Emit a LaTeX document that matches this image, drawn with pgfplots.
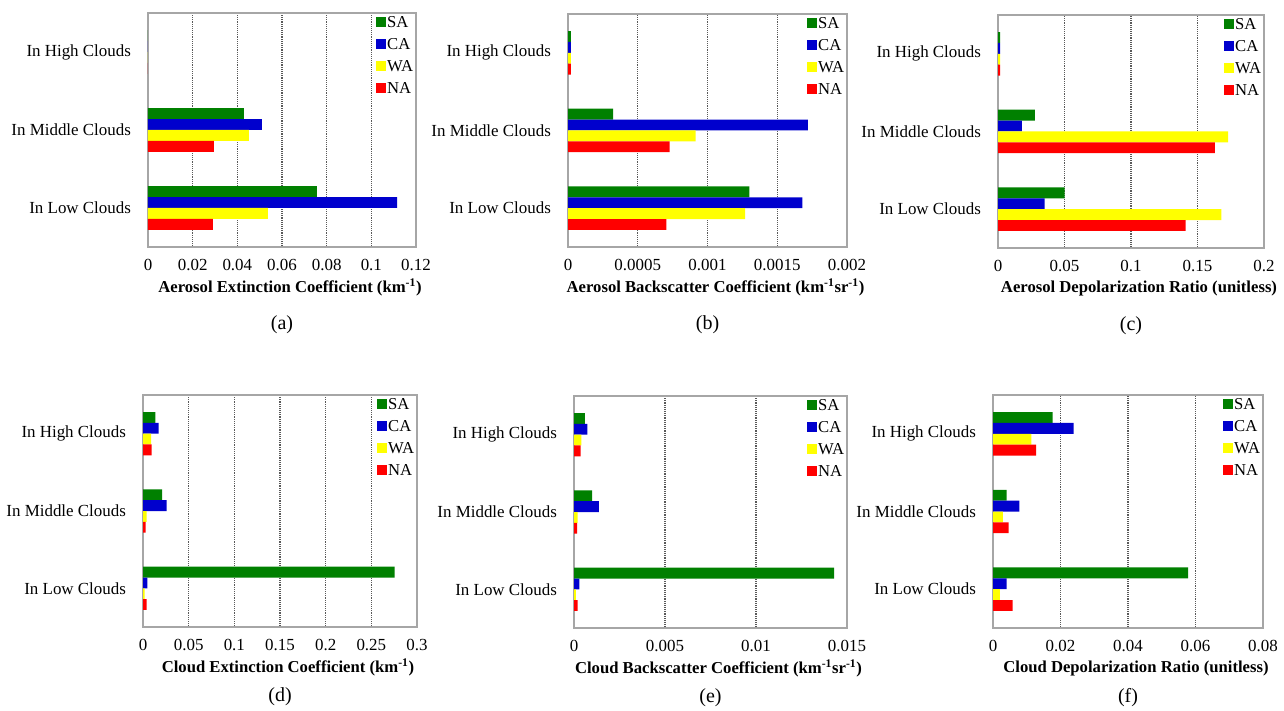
\documentclass[border=0pt]{standalone}
\usepackage{fontspec}
\setmainfont{Liberation Serif}
\usepackage{pgfplots}
\pgfplotsset{compat=1.18}
\definecolor{cSA}{RGB}{0,128,0}
\definecolor{cCA}{RGB}{0,0,205}
\definecolor{cWA}{RGB}{255,255,0}
\definecolor{cNA}{RGB}{255,0,0}
\pgfplotsset{
  panel/.style={
    scale only axis, xbar, anchor=south west,
    ymin=-0.5, ymax=2.5, ytick={0,1,2},
    yticklabels={In Low Clouds, In Middle Clouds, In High Clouds},
    xmin=0, bar width=0.14, scaled x ticks=false,
    xmajorgrids, major grid style={densely dotted, black!65, line width=0.8pt},
    axis line style={black!35, line width=1.1pt},
    tick style={draw=none},
    tick label style={font=\fontsize{12.7}{14}\selectfont},
    yticklabel style={xshift=-5pt},
    xticklabel style={yshift=-6pt},
    xlabel style={font=\bfseries\fontsize{12.5}{15}\selectfont, at={(axis description cs:0.5,0)}, anchor=center, yshift=-30.5pt, xshift=6pt},
    legend style={at={(1,1)}, anchor=north east, draw=none, fill=none,
      font=\fontsize{12.5}{14}\selectfont, row sep=3pt, inner sep=1pt,
      nodes={text height=9pt, text depth=2.5pt, inner sep=1pt}},
    legend cell align=left,
    legend image code/.code={\path[#1,draw=none] (0pt,-2.2pt) rectangle (7.4pt,5.2pt);},
    clip=false,
  },
  sa/.style={fill=cSA, draw=none, bar shift=0.21},
  ca/.style={fill=cCA, draw=none, bar shift=0.07},
  wa/.style={fill=cWA, draw=none, bar shift=-0.07},
  na/.style={fill=cNA, draw=none, bar shift=-0.21},
}
\begin{document}
\begin{tikzpicture}
\useasboundingbox (0,0) rectangle (963pt,532.5pt);
% (a)
\begin{axis}[panel, at={(111pt,347.25pt)}, width=201pt, height=175.5pt,
  xmax=0.12, xtick={0,0.02,0.04,0.06,0.08,0.1,0.12},
  xticklabels={0,0.02,0.04,0.06,0.08,0.1,0.12},
  xlabel={Aerosol Extinction Coefficient (km\textsuperscript{-1})}]
\addplot[sa] coordinates {(0.0756,0) (0.0429,1) (0,2)};
\addplot[ca] coordinates {(0.1115,0) (0.051,1) (0,2)};
\addplot[wa] coordinates {(0.0537,0) (0.0452,1) (0,2)};
\addplot[na] coordinates {(0.0291,0) (0.0295,1) (0,2)};
\legend{SA,CA,WA,NA}
\node[font=\fontsize{15}{17}\selectfont] at (axis description cs:0.5,0) [yshift=-58.5pt] {(a)};
\end{axis}
% (b)
\begin{axis}[panel, at={(426pt,347.25pt)}, width=209.25pt, height=174.75pt,
  xmax=0.002, xtick={0,0.0005,0.001,0.0015,0.002},
  xticklabels={0,0.0005,0.001,0.0015,0.002},
  xlabel={Aerosol Backscatter Coefficient (km\textsuperscript{-1}sr\textsuperscript{-1})}]
\addplot[sa] coordinates {(0.0013,0) (0.000323,1) (0.00002,2)};
\addplot[ca] coordinates {(0.00168,0) (0.00172,1) (0.00002,2)};
\addplot[wa] coordinates {(0.00127,0) (0.000915,1) (0.00002,2)};
\addplot[na] coordinates {(0.000705,0) (0.000729,1) (0.00002,2)};
\legend{SA,CA,WA,NA}
\node[font=\fontsize{15}{17}\selectfont] at (axis description cs:0.5,0) [yshift=-58.5pt] {(b)};
\end{axis}
% (c)
\begin{axis}[panel, at={(748.5pt,346.5pt)}, width=199.5pt, height=174.75pt,
  xmax=0.2, xtick={0,0.05,0.1,0.15,0.2},
  xticklabels={0,0.05,0.1,0.15,0.2},
  xlabel={Aerosol Depolarization Ratio (unitless)}]
\addplot[sa] coordinates {(0.050,0) (0.0278,1) (0.0015,2)};
\addplot[ca] coordinates {(0.035,0) (0.018,1) (0.0015,2)};
\addplot[wa] coordinates {(0.168,0) (0.173,1) (0.0015,2)};
\addplot[na] coordinates {(0.141,0) (0.163,1) (0.0015,2)};
\legend{SA,CA,WA,NA}
\node[font=\fontsize{15}{17}\selectfont] at (axis description cs:0.5,0) [yshift=-58.5pt] {(c)};
\end{axis}
% (d)
\begin{axis}[panel, at={(107.25pt,62.25pt)}, width=205.5pt, height=174pt,
  xmax=0.3, xtick={0,0.05,0.1,0.15,0.2,0.25,0.3},
  xticklabels={0,0.05,0.1,0.15,0.2,0.25,0.3},
  xlabel={Cloud Extinction Coefficient (km\textsuperscript{-1})}]
\addplot[sa] coordinates {(0.2755,0) (0.021,1) (0.0135,2)};
\addplot[ca] coordinates {(0.0047,0) (0.026,1) (0.017,2)};
\addplot[wa] coordinates {(0.0018,0) (0.004,1) (0.009,2)};
\addplot[na] coordinates {(0.004,0) (0.003,1) (0.0095,2)};
\legend{SA,CA,WA,NA}
\node[font=\fontsize{15}{17}\selectfont] at (axis description cs:0.5,0) [yshift=-52.5pt] {(d)};
\end{axis}
% (e)
\begin{axis}[panel, at={(430.5pt,61.5pt)}, width=204.75pt, height=174pt,
  xmax=0.015, xtick={0,0.005,0.01,0.015},
  xticklabels={0,0.005,0.01,0.015},
  xlabel={Cloud Backscatter Coefficient (km\textsuperscript{-1}sr\textsuperscript{-1})}]
\addplot[sa] coordinates {(0.01429,0) (0.001,1) (0.0006,2)};
\addplot[ca] coordinates {(0.0003,0) (0.00137,1) (0.00073,2)};
\addplot[wa] coordinates {(0.0001,0) (0.0002,1) (0.0004,2)};
\addplot[na] coordinates {(0.0002,0) (0.00017,1) (0.00037,2)};
\legend{SA,CA,WA,NA}
\node[font=\fontsize{15}{17}\selectfont] at (axis description cs:0.5,0) [yshift=-52.5pt] {(e)};
\end{axis}
% (f)
\begin{axis}[panel, at={(744.75pt,61.5pt)}, width=202.5pt, height=174.75pt,
  xmax=0.08, xtick={0,0.02,0.04,0.06,0.08},
  xticklabels={0,0.02,0.04,0.06,0.08},
  xlabel={Cloud Depolarization Ratio (unitless)}]
\addplot[sa] coordinates {(0.0578,0) (0.004,1) (0.0177,2)};
\addplot[ca] coordinates {(0.004,0) (0.0078,1) (0.0239,2)};
\addplot[wa] coordinates {(0.002,0) (0.0029,1) (0.0114,2)};
\addplot[na] coordinates {(0.0058,0) (0.0046,1) (0.0128,2)};
\legend{SA,CA,WA,NA}
\node[font=\fontsize{15}{17}\selectfont] at (axis description cs:0.5,0) [yshift=-52.5pt] {(f)};
\end{axis}
\end{tikzpicture}
\end{document}
